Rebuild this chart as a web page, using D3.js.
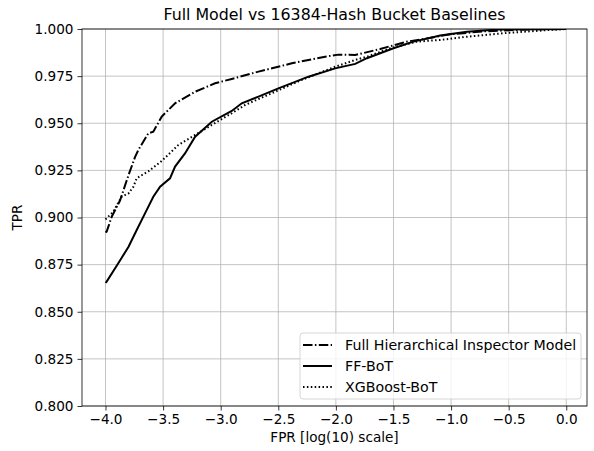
<!DOCTYPE html>
<html>
<head>
<meta charset="utf-8">
<script src="https://cdn.jsdelivr.net/npm/d3@7"></script>
<style>
  body { margin: 0; background: #fff; }
  text { font-family: "DejaVu Sans", sans-serif; fill: #000; }
</style>
</head>
<body>
<div id="chart"></div>
<script>
// ROC curves (x = log10 FPR, y = TPR)
var fullX = [-4.0, -3.99, -3.946, -3.874, -3.80, -3.744, -3.715, -3.628, -3.585, -3.512, -3.396, -3.222, -3.049, -2.904, -2.672, -2.382, -2.093, -1.977, -1.832, -1.615, -1.383, -1.21, -1.007, -0.7, -0.3, 0.0];
var fullY = [0.892, 0.8925, 0.9004, 0.909, 0.9225, 0.932, 0.9358, 0.9447, 0.9455, 0.9535, 0.9606, 0.9667, 0.9712, 0.9735, 0.9774, 0.9818, 0.9853, 0.9864, 0.9862, 0.9894, 0.9933, 0.995, 0.9972, 0.9988, 0.9998, 1.0];

var ffX = [-4.0, -3.99, -3.889, -3.80, -3.729, -3.657, -3.585, -3.526, -3.44, -3.396, -3.31, -3.222, -3.077, -2.904, -2.817, -2.672, -2.499, -2.238, -2.006, -1.832, -1.731, -1.50, -1.326, -1.094, -0.862, -0.6, 0.0];
var ffY = [0.8653, 0.866, 0.8757, 0.8845, 0.8934, 0.9022, 0.911, 0.9163, 0.9208, 0.927, 0.934, 0.9429, 0.9508, 0.9565, 0.9606, 0.9641, 0.9685, 0.9747, 0.9791, 0.9815, 0.9845, 0.9898, 0.9933, 0.9965, 0.9986, 0.9997, 1.0];

var xgbX = [-4.0, -3.99, -3.932, -3.86, -3.80, -3.758, -3.729, -3.628, -3.512, -3.367, -3.222, -3.077, -2.904, -2.788, -2.528, -2.30, -2.006, -1.832, -1.731, -1.528, -1.297, -1.094, -0.862, -0.5, -0.14, 0.0];
var xgbY = [0.899, 0.8996, 0.9031, 0.911, 0.9128, 0.9163, 0.9208, 0.9245, 0.9300, 0.9385, 0.9438, 0.9491, 0.9553, 0.9597, 0.9667, 0.9729, 0.98, 0.9836, 0.9853, 0.9898, 0.9933, 0.9942, 0.9959, 0.998, 0.9995, 1.0];

var seriesNames = ["Full Hierarchical Inspector Model", "FF-BoT", "XGBoost-BoT"];
var xTicks = [-4.0, -3.5, -3.0, -2.5, -2.0, -1.5, -1.0, -0.5, 0.0];
var yTicks = [0.800, 0.825, 0.850, 0.875, 0.900, 0.925, 0.950, 0.975, 1.000];

var W = 594, H = 451;
var margin = { top: 29, right: 7, bottom: 45, left: 82 },
    width = W - margin.left - margin.right,
    height = H - margin.top - margin.bottom;

var svg = d3.select("#chart").append("svg")
    .attr("width", W)
    .attr("height", H);

var g = svg.append("g")
    .attr("transform", "translate(" + margin.left + "," + margin.top + ")");

var x = d3.scaleLinear().domain([-4.204, 0.18]).range([0, width]);
var y = d3.scaleLinear().domain([0.8, 1.0]).range([height, 0]);

// grid
g.append("g").selectAll("line").data(xTicks).enter().append("line")
    .attr("x1", function(d) { return x(d); }).attr("x2", function(d) { return x(d); })
    .attr("y1", 0).attr("y2", height)
    .attr("stroke", "#b0b0b0").attr("stroke-width", 0.75);
g.append("g").selectAll("line").data(yTicks).enter().append("line")
    .attr("y1", function(d) { return y(d); }).attr("y2", function(d) { return y(d); })
    .attr("x1", 0).attr("x2", width)
    .attr("stroke", "#b0b0b0").attr("stroke-width", 0.75);

// axes
var fmtX = function(d) { return d3.format(".1f")(d).replace("-", "\u2212"); };
var xAxis = d3.axisBottom(x).tickValues(xTicks).tickFormat(fmtX).tickSize(4.5).tickPadding(4);
var yAxis = d3.axisLeft(y).tickValues(yTicks).tickFormat(d3.format(".3f")).tickSize(4.5).tickPadding(4);

var gx = g.append("g")
    .attr("transform", "translate(0," + height + ")")
    .call(xAxis);
var gy = g.append("g").call(yAxis);
[gx, gy].forEach(function(a) {
  a.select(".domain").remove();
  a.selectAll("line").attr("stroke", "#000").attr("stroke-width", 0.8);
  a.selectAll("text").style("font-size", "13.6px").style("font-family", "DejaVu Sans");
});

// curves
var line = d3.line()
    .x(function(d) { return x(d[0]); })
    .y(function(d) { return y(d[1]); });

var styles = [
  { xs: fullX, ys: fullY, dash: "9.5,2.4,1.5,2.4" },
  { xs: ffX, ys: ffY, dash: null },
  { xs: xgbX, ys: xgbY, dash: "1.5,2.4" }
];

g.append("defs").append("clipPath").attr("id", "clip")
  .append("rect").attr("width", width).attr("height", height);

styles.forEach(function(s) {
  var pts = d3.zip(s.xs, s.ys);
  g.append("path")
    .datum(pts)
    .attr("clip-path", "url(#clip)")
    .attr("d", line)
    .attr("fill", "none")
    .attr("stroke", "#000")
    .attr("stroke-width", 2)
    .attr("stroke-dasharray", s.dash);
});

// frame
g.append("rect")
    .attr("width", width).attr("height", height)
    .attr("fill", "none").attr("stroke", "#000").attr("stroke-width", 0.8);

// legend
var lg = g.append("g").attr("transform", "translate(" + (300 - margin.left) + "," + (333 - margin.top) + ")");
lg.append("rect")
    .attr("width", 281).attr("height", 66).attr("rx", 3)
    .attr("fill", "#fff").attr("fill-opacity", 0.8)
    .attr("stroke", "#ccc").attr("stroke-width", 0.8);
seriesNames.forEach(function(name, i) {
  var yy = 12 + i * 21;
  lg.append("line")
    .attr("x1", 3).attr("x2", 32).attr("y1", yy).attr("y2", yy)
    .attr("stroke", "#000").attr("stroke-width", 2)
    .attr("stroke-dasharray", styles[i].dash);
  lg.append("text")
    .attr("x", 45).attr("y", yy).attr("dy", "0.35em")
    .style("font-size", "14.2px")
    .text(name);
});

// titles
svg.append("text")
    .attr("x", margin.left + width / 2).attr("y", 20)
    .attr("text-anchor", "middle")
    .style("font-size", "15.8px")
    .text("Full Model vs 16384-Hash Bucket Baselines");
svg.append("text")
    .attr("x", margin.left + width / 2).attr("y", 442)
    .attr("text-anchor", "middle")
    .style("font-size", "13.6px")
    .text("FPR [log(10) scale]");
svg.append("text")
    .attr("transform", "translate(22," + (margin.top + height / 2) + ") rotate(-90)")
    .attr("text-anchor", "middle")
    .style("font-size", "13.6px")
    .text("TPR");
</script>
</body>
</html>
